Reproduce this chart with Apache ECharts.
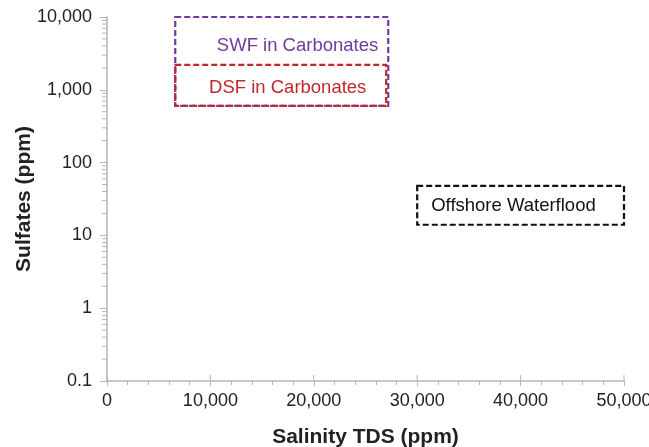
<!DOCTYPE html>
<html>
<head>
<meta charset="utf-8">
<script src="https://cdn.jsdelivr.net/npm/echarts@6/dist/echarts.min.js"></script>
<style>
  html, body { margin: 0; padding: 0; background: #fff; }
  #chart { width: 649px; height: 447px; }
</style>
</head>
<body>
<div id="chart"></div>
<script>
// region boxes (salinity ppm, sulfates ppm)
var boxNames = ['SWF in Carbonates', 'DSF in Carbonates', 'Offshore Waterflood'];
var boxXMin = [6600, 6600, 30000];
var boxXMax = [27200, 27000, 50000];
var boxYMin = [600, 600, 14];
var boxYMax = [10000, 2200, 48];

var xTicks = [0, 10000, 20000, 30000, 40000, 50000];
var yTicks = [0.1, 1, 10, 100, 1000, 10000];

// look of each box: colour and where the label sits
var boxColors = ['#6e3b9e', '#c1272d', '#111111'];
var labelPlace = ['right', 'center', 'left'];

// log minor ticks 2..9 for every decade
var yMinor = [];
for (var d = 0; d < yTicks.length - 1; d++) {
    for (var k = 2; k <= 9; k++) {
        yMinor.push([0, +(yTicks[d] * k).toPrecision(3)]);
    }
}
// upper half of the major x ticks (they cross the axis line)
var xMajorUp = xTicks.map(function (v) { return [v, yTicks[0]]; });

var boxData = boxNames.map(function (n, i) {
    return [boxXMin[i], boxXMax[i], boxYMin[i], boxYMax[i], i];
});

var chart = echarts.init(document.getElementById('chart'), null, { renderer: 'canvas' });

function fmtNum(v) {
    if (v === 0) return '0';
    if (v < 1) return v.toFixed(1);
    return Math.round(v).toLocaleString('en-US');
}

function renderBox(params, api) {
    var i = api.value(4);
    var p1 = api.coord([api.value(0), api.value(3)]);
    var p2 = api.coord([api.value(1), api.value(2)]);
    var x = p1[0], y = p1[1], w = p2[0] - p1[0], h = p2[1] - p1[1];
    var tx, ty, align;
    if (labelPlace[i] === 'right') {
        tx = x + w - 10; ty = y + 29; align = 'right';
    } else if (labelPlace[i] === 'center') {
        tx = x + w / 2 + 7; ty = y + h / 2 + 2; align = 'center';
    } else {
        tx = x + 14; ty = y + h / 2 + 1; align = 'left';
    }
    return {
        type: 'group',
        children: [{
            type: 'rect',
            shape: { x: x, y: y, width: w, height: h },
            style: { fill: null, stroke: boxColors[i], lineWidth: 2.2, lineDash: [6, 3] }
        }, {
            type: 'text',
            style: {
                x: tx, y: ty, text: boxNames[i],
                fill: boxColors[i], font: '18.5px "Liberation Sans", Arial, sans-serif',
                align: align, verticalAlign: 'middle'
            }
        }]
    };
}

function renderMinorY(params, api) {
    var p = api.coord([api.value(0), api.value(1)]);
    return {
        type: 'line',
        shape: { x1: p[0] - 5, y1: p[1], x2: p[0], y2: p[1] },
        style: { stroke: '#b5b5b5', lineWidth: 1 }
    };
}

function renderMajorX(params, api) {
    var p = api.coord([api.value(0), api.value(1)]);
    return {
        type: 'line',
        shape: { x1: p[0], y1: p[1] - 6, x2: p[0], y2: p[1] },
        style: { stroke: '#b5b5b5', lineWidth: 1 }
    };
}

var option = {
    animation: false,
    grid: { left: 107, right: 25, top: 17, bottom: 66, containLabel: false, outerBoundsMode: 'none' },
    xAxis: {
        type: 'value',
        min: xTicks[0],
        max: xTicks[xTicks.length - 1],
        interval: 10000,
        name: 'Salinity TDS (ppm)',
        nameLocation: 'middle',
        nameGap: 46,
        nameMoveOverlap: false,
        nameTextStyle: { fontSize: 21, fontWeight: 'bold', color: '#222', fontFamily: 'Liberation Sans' },
        axisLine: { lineStyle: { color: '#b5b5b5', width: 1.5 } },
        axisTick: { show: true, length: 5, lineStyle: { color: '#b5b5b5' } },
        minorTick: { show: true, splitNumber: 5, length: 4, lineStyle: { color: '#b5b5b5' } },
        axisLabel: {
            fontSize: 18, color: '#222', fontFamily: 'Liberation Sans', margin: 11,
            formatter: fmtNum
        },
        splitLine: { show: false }
    },
    yAxis: {
        type: 'log',
        logBase: 10,
        min: yTicks[0],
        max: yTicks[yTicks.length - 1],
        name: 'Sulfates (ppm)',
        nameLocation: 'middle',
        nameGap: 72,
        nameMoveOverlap: false,
        nameTextStyle: { fontSize: 21, fontWeight: 'bold', color: '#222', fontFamily: 'Liberation Sans' },
        axisLine: { show: true, lineStyle: { color: '#b5b5b5', width: 1.5 } },
        axisTick: { show: true, length: 7, lineStyle: { color: '#b5b5b5' } },
        axisLabel: {
            fontSize: 18, color: '#222', fontFamily: 'Liberation Sans', margin: 15,
            formatter: fmtNum
        },
        splitLine: { show: false }
    },
    series: [{
        type: 'custom',
        renderItem: renderMinorY,
        data: yMinor,
        clip: false,
        silent: true,
        z: 1
    }, {
        type: 'custom',
        renderItem: renderMajorX,
        data: xMajorUp,
        clip: false,
        silent: true,
        z: 1
    }, {
        type: 'custom',
        renderItem: renderBox,
        data: boxData,
        clip: false,
        silent: true,
        z: 3
    }]
};

chart.setOption(option);
</script>
</body>
</html>
